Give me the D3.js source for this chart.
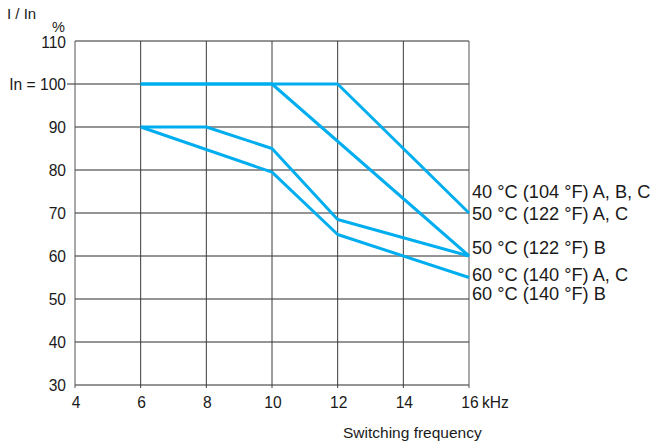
<!DOCTYPE html>
<html>
<head>
<meta charset="utf-8">
<script src="https://cdn.jsdelivr.net/npm/d3@7"></script>
<style>
  html, body { margin: 0; padding: 0; background: #fff; }
  svg { display: block; font-family: "Liberation Sans", Arial, sans-serif; }
</style>
</head>
<body>
<svg id="chart" width="661" height="443"></svg>
<script>
// ---- data ----
const xTicks = [4, 6, 8, 10, 12, 14, 16];
const yTicks = [30, 40, 50, 60, 70, 80, 90, 100, 110];
const yTickLabels = ["30", "40", "50", "60", "70", "80", "90", "In = 100", "110"];

const series40AC_B = [[6, 100], [12, 100], [16, 70]];
const series50AC = [[6, 100], [10, 100], [16, 60]];
const series50B = [[6, 90], [8, 90], [10, 85], [12, 68.5], [16, 60]];
const series60AC = [[6, 90], [10, 79.5], [12, 65], [16, 55]];
const seriesList = [series40AC_B, series50AC, series50B, series60AC];

const seriesLabels = [
  "40 °C (104 °F) A, B, C",
  "50 °C (122 °F) A, C",
  "50 °C (122 °F) B",
  "60 °C (140 °F) A, C",
  "60 °C (140 °F) B"
];
// label baseline anchors, in y-axis units
const seriesLabelAnchors = [73.6, 68.3, 60.4, 54.1, 49.8];

// ---- layout ----
const svg = d3.select("#chart");
const x = d3.scaleLinear().domain([4, 16]).range([75, 469]);
const y = d3.scaleLinear().domain([30, 110]).range([385, 41]);
const lineCol = "#00aeef";
const gridCol = "#2a2a2a";
const textCol = "#1a1a1a";
const fs = 15.6;
const fsLab = 18.2;

// horizontal grid lines
svg.append("g").selectAll("line").data(yTicks).join("line")
  .attr("x1", d => d === 100 ? x(4) - 8 : x(4))
  .attr("x2", x(16))
  .attr("y1", d => y(d)).attr("y2", d => y(d))
  .attr("stroke", gridCol).attr("stroke-width", 1);

// vertical grid lines
svg.append("g").selectAll("line").data(xTicks).join("line")
  .attr("x1", d => x(d)).attr("x2", d => x(d))
  .attr("y1", y(110)).attr("y2", y(30) + 3)
  .attr("stroke", d => (d === 4 || d === 16) ? "#555" : "#3a3a3a")
  .attr("stroke-width", 1);

// y tick labels
svg.append("g").selectAll("text").data(yTicks).join("text")
  .attr("x", 66)
  .attr("y", d => y(d))
  .attr("dy", (d) => d === 110 ? "0.42em" : "0.36em")
  .attr("text-anchor", "end")
  .attr("font-size", fs)
  .attr("fill", textCol)
  .text((d, i) => yTickLabels[i]);

// x tick labels
svg.append("g").selectAll("text").data(xTicks).join("text")
  .attr("x", d => x(d) + 1)
  .attr("y", 408)
  .attr("text-anchor", "middle")
  .attr("font-size", fs)
  .attr("fill", textCol)
  .text(d => d);

svg.append("text").attr("x", x(16) + 13).attr("y", 408)
  .attr("font-size", fs).attr("fill", textCol).text("kHz");

svg.append("text").attr("x", 343).attr("y", 438)
  .attr("font-size", 15.5).attr("fill", textCol).text("Switching frequency");

svg.append("text").attr("x", 7).attr("y", 19)
  .attr("font-size", 15).attr("fill", textCol).text("I / In");

svg.append("text").attr("x", 65).attr("y", 32)
  .attr("text-anchor", "end")
  .attr("font-size", 14.5).attr("fill", textCol).text("%");

// series lines
const line = d3.line().x(d => x(d[0])).y(d => y(d[1]));
svg.append("g").selectAll("path").data(seriesList).join("path")
  .attr("d", line)
  .attr("fill", "none")
  .attr("stroke", lineCol)
  .attr("stroke-width", 3)
  .attr("stroke-linejoin", "round")
  .attr("stroke-linecap", "butt");

// series labels
svg.append("g").selectAll("text").data(seriesLabels).join("text")
  .attr("x", x(16) + 3)
  .attr("y", (d, i) => y(seriesLabelAnchors[i]))
  .attr("font-size", fsLab)
  .attr("fill", textCol)
  .text(d => d);
</script>
</body>
</html>
